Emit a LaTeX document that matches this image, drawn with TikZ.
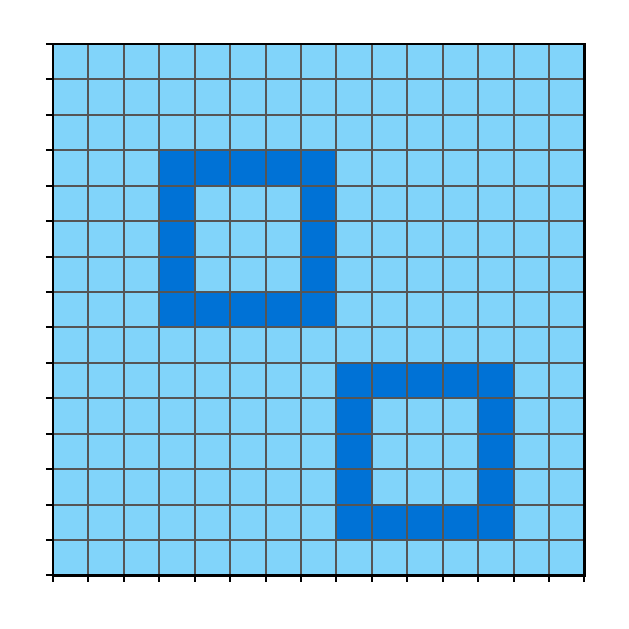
\documentclass[tikz,border=0pt]{standalone}
\definecolor{lightcell}{HTML}{81D4FA}
\definecolor{darkcell}{HTML}{0072D6}
\definecolor{gridgray}{HTML}{555555}
\tikzset{
  gridline/.style={draw=gridgray, line width=1pt},
  frameline/.style={draw=black, line width=1.4pt},
  tickline/.style={draw=black, line width=1pt},
}
\begin{document}
\begin{tikzpicture}[x=0.5pt,y=-0.5pt]
\useasboundingbox (0,0) rectangle (629,629);
\def\cs{35.43}
\begin{scope}[shift={(53,44)}]
  \fill[lightcell] (0,0) rectangle (15*\cs,15*\cs);
  % first hollow square: columns 3..7, rows 3..7
  \fill[darkcell] (3*\cs,3*\cs) rectangle (8*\cs,8*\cs);
  \fill[lightcell] (4*\cs,4*\cs) rectangle (7*\cs,7*\cs);
  % second hollow square: columns 8..12, rows 9..13
  \fill[darkcell] (8*\cs,9*\cs) rectangle (13*\cs,14*\cs);
  \fill[lightcell] (9*\cs,10*\cs) rectangle (12*\cs,13*\cs);
  \foreach \i in {1,...,14} {
    \draw[gridline] (\i*\cs,0) -- (\i*\cs,15*\cs);
    \draw[gridline] (0,\i*\cs) -- (15*\cs,\i*\cs);
  }
  \foreach \i in {0,...,15} {
    \draw[tickline] (-7,\i*\cs) -- (0,\i*\cs);
    \draw[tickline] (\i*\cs,15*\cs) -- (\i*\cs,15*\cs+7);
  }
  \draw[frameline] (0,0) rectangle (15*\cs,15*\cs);
\end{scope}
\end{tikzpicture}
\end{document}
